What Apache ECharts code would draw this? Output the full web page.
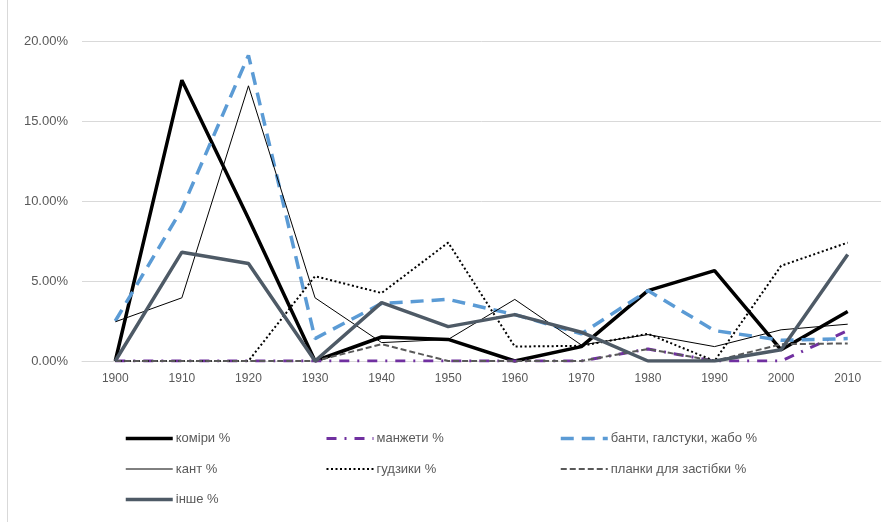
<!DOCTYPE html>
<html>
<head>
<meta charset="utf-8">
<script src="https://cdn.jsdelivr.net/npm/echarts@6/dist/echarts.min.js"></script>
<style>
html,body{margin:0;padding:0;background:#fff;}
#c{width:892px;height:522px;}
</style>
</head>
<body>
<div id="c"></div>
<script>
const years = ['1900','1910','1920','1930','1940','1950','1960','1970','1980','1990','2000','2010'];
const yTicks = [0, 5, 10, 15, 20];
const komiry  = [0, 17.55, 8.9, 0, 1.5, 1.35, 0, 0.9, 4.4, 5.65, 0.7, 3.1];
const manzhety = [0, 0, 0, 0, 0, 0, 0, 0, 0.75, 0, 0, 1.9];
const banty   = [2.5, 9.5, 19.1, 1.4, 3.6, 3.85, 2.9, 1.7, 4.4, 1.9, 1.3, 1.4];
const kant    = [2.45, 3.95, 17.2, 3.95, 1.15, 1.35, 3.85, 1.0, 1.65, 0.9, 1.95, 2.3];
const gudzyky = [0, 0, 0, 5.3, 4.25, 7.4, 0.9, 0.95, 1.7, 0, 5.95, 7.4];
const planky  = [0, 0, 0, 0, 1.05, 0, 0, 0, 0.75, 0, 1.05, 1.1];
const inshe   = [0, 6.8, 6.1, 0, 3.65, 2.15, 2.9, 1.8, 0, 0, 0.7, 6.65];

const names = ['коміри %', 'манжети %', 'банти, галстуки, жабо %', 'кант %', 'гудзики %', 'планки для застібки %', 'інше %'];

const chart = echarts.init(document.getElementById('c'), null, {renderer: 'canvas'});
const font = 'Liberation Sans, Arial, sans-serif';
const styles = [
  {color: '#000000', width: 3.5, type: 'solid'},
  {color: '#7030a0', width: 3, type: [10, 8, 2, 8]},
  {color: '#5b9bd5', width: 3.5, type: [13, 8]},
  {color: '#000000', width: 1, type: 'solid'},
  {color: '#000000', width: 2, type: [2, 2.5]},
  {color: '#595959', width: 2, type: [6, 3]},
  {color: '#4e5a66', width: 3.5, type: 'solid'}
];
const datasets = [komiry, manzhety, banty, kant, gudzyky, planky, inshe];
function mk(i) {
  const s = styles[i];
  return {
    name: names[i], type: 'line', data: datasets[i], symbol: 'none', smooth: false,
    lineStyle: {color: s.color, width: s.width, type: s.type, cap: 'butt'},
    itemStyle: {color: s.color},
    emphasis: {disabled: true}, animation: false
  };
}
function legItem(i) {
  const s = styles[i];
  return {name: names[i], lineStyle: {color: s.color, width: s.width, type: s.type}};
}
const legendCommon = {
  orient: 'vertical', itemWidth: 47, itemHeight: 14, itemGap: 17.5,
  itemStyle: {opacity: 0},
  textStyle: {color: '#595959', fontSize: 13, fontFamily: font, padding: [0, 0, 0, -2]},
  selectedMode: false
};
chart.setOption({
  animation: false,
  backgroundColor: '#fff',
  grid: {left: 82, right: 11, top: 41, bottom: 161, containLabel: false},
  xAxis: {
    type: 'category', data: years, boundaryGap: true,
    axisLine: {lineStyle: {color: '#d9d9d9', width: 1}},
    axisTick: {show: false},
    axisLabel: {color: '#595959', fontSize: 12, fontFamily: font, margin: 12}
  },
  yAxis: {
    type: 'value', min: yTicks[0], max: yTicks[yTicks.length - 1], interval: 5,
    axisLine: {show: false}, axisTick: {show: false},
    splitLine: {lineStyle: {color: '#d9d9d9', width: 1}},
    axisLabel: {color: '#595959', fontSize: 13, fontFamily: font, margin: 14,
      formatter: v => v.toFixed(2) + '%'}
  },
  legend: [
    Object.assign({}, legendCommon, {left: 119, top: 427, data: [legItem(0), legItem(3), legItem(6)]}),
    Object.assign({}, legendCommon, {left: 320, top: 427, data: [legItem(1), legItem(4)]}),
    Object.assign({}, legendCommon, {left: 554, top: 427, data: [legItem(2), legItem(5)]})
  ],
  graphic: [{type: 'line', shape: {x1: 7.5, y1: 0, x2: 7.5, y2: 522}, style: {stroke: '#d9d9d9', lineWidth: 1}}],
  series: [0, 1, 2, 3, 4, 5, 6].map(mk)
});
</script>
</body>
</html>
